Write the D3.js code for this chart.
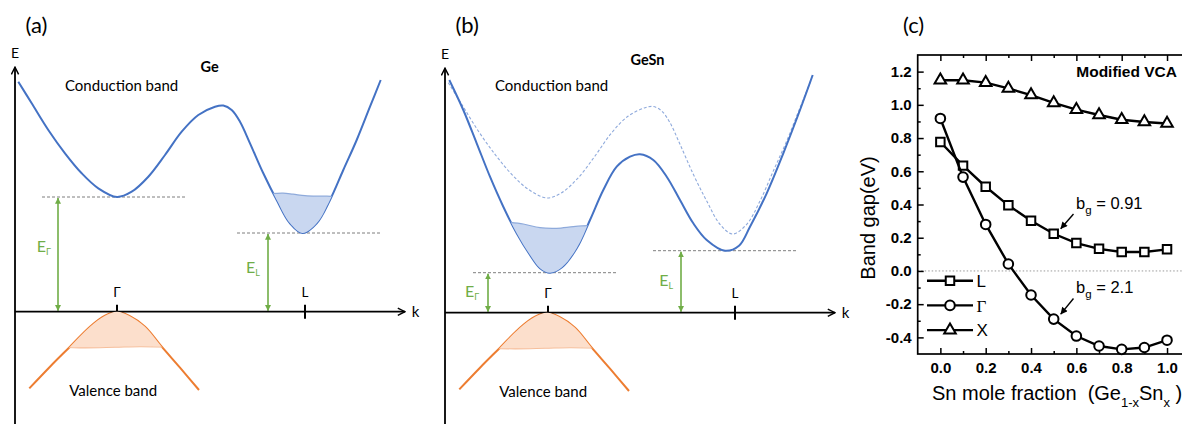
<!DOCTYPE html>
<html>
<head>
<meta charset="utf-8">
<script src="https://cdn.jsdelivr.net/npm/d3@7"></script>
<style>
  html, body { margin: 0; padding: 0; background: #fff; }
  svg { display: block; }
</style>
</head>
<body>
<svg id="fig" width="1182" height="424"></svg>
<script>
// ---------- Schematic band structures: [k, E] in arbitrary units (Γ near k≈1, L near k≈2.9) ----------
const geConduction = [
  [0.033, 2.30], [0.167, 2.084], [0.333, 1.817], [0.5, 1.584], [0.667, 1.384],
  [0.833, 1.234], [1.02, 1.147], [1.167, 1.20], [1.333, 1.35], [1.5, 1.567],
  [1.667, 1.80], [1.833, 1.967], [2.0, 2.05], [2.083, 2.062], [2.167, 2.017],
  [2.25, 1.90], [2.35, 1.684], [2.483, 1.384], [2.617, 1.117], [2.75, 0.884],
  [2.877, 0.787], [3.017, 0.884], [3.15, 1.117], [3.283, 1.417], [3.417, 1.717],
  [3.55, 2.05], [3.657, 2.317]
];
const gesnConduction = [
  [0.043, 2.327], [0.183, 2.027], [0.317, 1.694], [0.45, 1.36], [0.583, 1.06],
  [0.717, 0.794], [0.85, 0.577], [0.95, 0.445], [1.05, 0.40], [1.17, 0.455],
  [1.317, 0.644], [1.45, 0.927], [1.583, 1.227], [1.717, 1.46], [1.85, 1.56],
  [1.95, 1.584], [2.083, 1.527], [2.217, 1.36], [2.35, 1.127], [2.483, 0.894],
  [2.617, 0.727], [2.8, 0.62], [2.94, 0.67], [3.05, 0.86], [3.217, 1.194],
  [3.383, 1.594], [3.55, 2.027], [3.677, 2.377]
];
const valenceBand = [
  [0.143, -0.767], [0.35, -0.55], [0.55, -0.35], [0.75, -0.15], [0.9, -0.04],
  [1.02, 0.0], [1.14, -0.04], [1.3, -0.15], [1.467, -0.35], [1.65, -0.56], [1.84, -0.783]
];
// occupied states: upper edge of electron pockets, lower edge of hole pocket
const geLPocketTop = [[2.56, 1.18], [2.68, 1.185], [2.78, 1.175], [2.9, 1.16], [3.02, 1.155], [3.12, 1.155], [3.22, 1.15]];
const gesnGammaPocketTop = [[0.55, 0.91], [0.633, 0.904], [0.783, 0.887], [0.95, 0.85], [1.117, 0.844], [1.283, 0.86], [1.433, 0.87], [1.52, 0.87]];
const valencePocketBottom = [[0.42, -0.355], [0.7, -0.362], [1.0, -0.356], [1.25, -0.35], [1.6, -0.356]];

// band edges per material: [Ge, GeSn]
const materials = ["Ge", "GeSn"];
const gammaGap = [1.147, 0.40];
const lGap = [0.787, 0.62];
const gammaPointK = [1.02, 1.03];
const lPointK = [2.9, 2.9];

// ---------- Band gap vs Sn fraction ----------
const snFraction = [0.0, 0.1, 0.2, 0.3, 0.4, 0.5, 0.6, 0.7, 0.8, 0.9, 1.0];
const gapL     = [0.776, 0.634, 0.507, 0.395, 0.302, 0.224, 0.168, 0.133, 0.114, 0.114, 0.130];
const gapGamma = [0.918, 0.565, 0.28, 0.042, -0.145, -0.29, -0.392, -0.452, -0.472, -0.461, -0.417];
const gapX     = [1.148, 1.148, 1.134, 1.099, 1.059, 1.012, 0.971, 0.939, 0.910, 0.897, 0.888];
const yTicksMajor = [-0.4, -0.2, 0.0, 0.2, 0.4, 0.6, 0.8, 1.0, 1.2];
const yTicksMinor = [-0.3, -0.1, 0.1, 0.3, 0.5, 0.7, 0.9, 1.1];
const xTicksMajor = [0.0, 0.2, 0.4, 0.6, 0.8, 1.0];
const xTicksMinor = [0.1, 0.3, 0.5, 0.7, 0.9];
const bowing = ["0.91", "2.1"];

// ---------- drawing ----------
const svg = d3.select("#fig");
const defs = svg.append("defs");
const SANS = "Lato, 'Open Sans', sans-serif";
const ARIAL = "'Liberation Sans', Arial, sans-serif";

function filledArrow(id, color, w, h) {
  defs.append("marker").attr("id", id)
    .attr("viewBox", "0 0 10 10").attr("refX", 9.5).attr("refY", 5)
    .attr("markerWidth", w).attr("markerHeight", h)
    .attr("markerUnits", "userSpaceOnUse").attr("orient", "auto-start-reverse")
    .append("path").attr("d", "M0,0 L10,5 L0,10 Z").attr("fill", color);
}
filledArrow("greenHead", "#70ad47", 6, 6);
filledArrow("blackHead", "#000", 8, 7);
defs.append("marker").attr("id", "axisHead")
  .attr("viewBox", "0 0 10 10").attr("refX", 9).attr("refY", 5)
  .attr("markerWidth", 9).attr("markerHeight", 9)
  .attr("markerUnits", "userSpaceOnUse").attr("orient", "auto")
  .append("path").attr("d", "M1,1 L9,5 L1,9").attr("fill", "none")
  .attr("stroke", "#000").attr("stroke-width", 1.6);

// local band-diagram scales (one unit = 100 px), shared by panels (a) and (b)
const kx = d3.scaleLinear().domain([0, 1]).range([0, 100]);
const ey = d3.scaleLinear().domain([0, 1]).range([0, -100]);
const curve = d3.curveCatmullRom.alpha(0.5);
const bandLine = d3.line().x(d => kx(d[0])).y(d => ey(d[1])).curve(curve);

const layouts = [
  { tag: "(a)", ox: 15, oy: 311.7, band: geConduction, ghost: null, pocket: geLPocketTop,
    titleY: 71.7, levelG: [0.27, 1.72], levelL: [2.22, 3.67], arrowG: 0.43, arrowL: 2.53,
    labG: [0.217, 0.60], labL: [2.31, 0.384], tickLabY: -15 },
  { tag: "(b)", ox: 445, oy: 312.7, band: gesnConduction, ghost: geConduction, pocket: gesnGammaPocketTop,
    titleY: 65, levelG: [0.28, 1.73], levelL: [2.08, 3.53], arrowG: 0.43, arrowL: 2.36,
    labG: [0.20, 0.16], labL: [2.143, 0.267], tickLabY: -14.7 }
];

layouts.forEach((p, i) => {
  const g = svg.append("g").attr("transform", `translate(${p.ox},${p.oy})`);
  const cid = "cb" + i, vid = "vb" + i;

  // clip regions: above the conduction band, below the valence band
  defs.append("clipPath").attr("id", cid).append("path")
    .attr("transform", `translate(${p.ox},${p.oy})`)
    .attr("d", d3.area().x(d => kx(d[0])).y0(d => ey(d[1])).y1(ey(3)).curve(curve)(p.band));
  defs.append("clipPath").attr("id", vid).append("path")
    .attr("transform", `translate(${p.ox},${p.oy})`)
    .attr("d", d3.area().x(d => kx(d[0])).y0(d => ey(d[1])).y1(ey(-2)).curve(curve)(valenceBand));

  const gc = svg.append("g").attr("clip-path", `url(#${cid})`)
    .append("g").attr("transform", `translate(${p.ox},${p.oy})`);
  gc.append("path")
    .attr("d", d3.area().x(d => kx(d[0])).y0(ey(-1.5)).y1(d => ey(d[1])).curve(curve)(p.pocket))
    .attr("fill", "#c9d7f0");
  gc.append("path").attr("d", bandLine(p.pocket))
    .attr("fill", "none").attr("stroke", "#8eaadb").attr("stroke-width", 1.2);

  const gv = svg.append("g").attr("clip-path", `url(#${vid})`)
    .append("g").attr("transform", `translate(${p.ox},${p.oy})`);
  gv.append("path")
    .attr("d", d3.area().x(d => kx(d[0])).y0(ey(1)).y1(d => ey(d[1])).curve(curve)(valencePocketBottom))
    .attr("fill", "#fcdfcc");
  gv.append("path").attr("d", bandLine(valencePocketBottom))
    .attr("fill", "none").attr("stroke", "#f6bf9c").attr("stroke-width", 1.1);

  // band-edge reference levels
  const level = (ks, e) => g.append("line")
    .attr("x1", kx(ks[0])).attr("x2", kx(ks[1])).attr("y1", ey(e)).attr("y2", ey(e))
    .attr("stroke", "#7f7f7f").attr("stroke-width", 1).attr("stroke-dasharray", "3,2");
  level(p.levelG, gammaGap[i]);
  level(p.levelL, lGap[i]);

  // gap arrows
  const gapArrow = (k, e) => g.append("line")
    .attr("x1", kx(k)).attr("x2", kx(k)).attr("y1", ey(0) - 1).attr("y2", ey(e) + 1)
    .attr("stroke", "#70ad47").attr("stroke-width", 1.6)
    .attr("marker-start", "url(#greenHead)").attr("marker-end", "url(#greenHead)");
  gapArrow(p.arrowG, gammaGap[i]);
  gapArrow(p.arrowL, lGap[i]);

  const gapLabel = (pos, sub) => {
    const t = g.append("text").attr("x", kx(pos[0])).attr("y", ey(pos[1]))
      .attr("font-family", SANS).attr("font-size", 16).attr("fill", "#70ad47").text("E");
    t.append("tspan").attr("font-size", 9).attr("dy", 3).text(sub);
  };
  gapLabel(p.labG, "Γ");
  gapLabel(p.labL, "L");

  // ghost (unalloyed) conduction band
  if (p.ghost) {
    g.append("path").attr("d", bandLine(p.ghost)).attr("fill", "none")
      .attr("stroke", "#8faadc").attr("stroke-width", 1.1).attr("stroke-dasharray", "3,2");
  }
  g.append("path").attr("d", bandLine(p.band)).attr("fill", "none")
    .attr("stroke", "#4472c4").attr("stroke-width", 2);
  g.append("path").attr("d", bandLine(valenceBand)).attr("fill", "none")
    .attr("stroke", "#ed7d31").attr("stroke-width", 2);

  // axes
  g.append("line").attr("x1", 0).attr("x2", 0).attr("y1", ey(-1.2)).attr("y2", ey(2.445))
    .attr("stroke", "#000").attr("stroke-width", 1.8).attr("marker-end", "url(#axisHead)");
  g.append("line").attr("x1", 0).attr("x2", kx(3.9)).attr("y1", 0).attr("y2", 0)
    .attr("stroke", "#000").attr("stroke-width", 1.8).attr("marker-end", "url(#axisHead)");
  g.append("text").attr("x", 0).attr("y", ey(2.534)).attr("text-anchor", "middle")
    .attr("font-family", SANS).attr("font-size", 14).text("E");
  g.append("text").attr("x", kx(3.967)).attr("y", 5.5)
    .attr("font-family", SANS).attr("font-size", 15).text("k");

  [[gammaPointK[i], "Γ"], [lPointK[i], "L"]].forEach(([k, name]) => {
    g.append("line").attr("x1", kx(k)).attr("x2", kx(k)).attr("y1", -7).attr("y2", 7)
      .attr("stroke", "#000").attr("stroke-width", 2);
    g.append("text").attr("x", kx(k)).attr("y", p.tickLabY).attr("text-anchor", "middle")
      .attr("font-family", SANS).attr("font-size", 13.5).text(name);
  });

  g.append("text").attr("x", 50).attr("y", 90.7 - p.oy)
    .attr("font-family", SANS).attr("font-size", 15).text("Conduction band");
  g.append("text").attr("x", 54.3).attr("y", 84.2)
    .attr("font-family", SANS).attr("font-size", 15).text("Valence band");
  g.append("text").attr("x", 185.5).attr("y", p.titleY - p.oy)
    .attr("font-family", SANS).attr("font-weight", "bold").attr("font-size", 14.5).text(materials[i]);
  g.append("text").attr("x", 10.5).attr("y", 33 - p.oy)
    .attr("font-family", SANS).attr("font-size", 22).text(p.tag);
});

// ---------- panel (c) ----------
const xC = d3.scaleLinear().domain([-0.1, 1.1]).range([917.7, 1189.7]);
const yC = d3.scaleLinear().domain([-0.5, 1.3]).range([354, 55]);
const gC = svg.append("g");

gC.append("text").attr("x", 903).attr("y", 33)
  .attr("font-family", SANS).attr("font-size", 22).text("(c)");

gC.append("line").attr("x1", xC(-0.1)).attr("x2", xC(1.1)).attr("y1", yC(0)).attr("y2", yC(0))
  .attr("stroke", "#9a9a9a").attr("stroke-width", 1).attr("stroke-dasharray", "1.5,2");

const fmt = d => d.toFixed(1);
function styleAxis(sel) {
  sel.select(".domain").remove();
  sel.selectAll(".tick line").attr("stroke", "#000").attr("stroke-width", 1.5);
  sel.selectAll("text").attr("font-family", ARIAL).attr("font-weight", "bold")
    .attr("font-size", 15).attr("fill", "#000");
}
gC.append("g").attr("transform", `translate(${xC(-0.1)},0)`)
  .call(d3.axisLeft(yC).tickValues(yTicksMajor).tickFormat(fmt).tickSizeInner(-6).tickSizeOuter(0).tickPadding(6))
  .call(styleAxis);
gC.append("g").attr("transform", `translate(${xC(-0.1)},0)`)
  .call(d3.axisLeft(yC).tickValues(yTicksMinor).tickFormat("").tickSizeInner(-3).tickSizeOuter(0))
  .call(styleAxis);
gC.append("g").attr("transform", `translate(0,${yC(-0.5)})`)
  .call(d3.axisBottom(xC).tickValues(xTicksMajor).tickFormat(fmt).tickSizeInner(-6).tickSizeOuter(0).tickPadding(8.5))
  .call(styleAxis);
gC.append("g").attr("transform", `translate(0,${yC(-0.5)})`)
  .call(d3.axisBottom(xC).tickValues(xTicksMinor).tickFormat("").tickSizeInner(-3).tickSizeOuter(0))
  .call(styleAxis);
gC.append("g").attr("transform", `translate(0,${yC(1.3)})`)
  .call(d3.axisTop(xC).tickValues(xTicksMajor).tickFormat("").tickSizeInner(-6).tickSizeOuter(0))
  .call(styleAxis);
gC.append("g").attr("transform", `translate(0,${yC(1.3)})`)
  .call(d3.axisTop(xC).tickValues(xTicksMinor).tickFormat("").tickSizeInner(-3).tickSizeOuter(0))
  .call(styleAxis);

gC.append("rect").attr("x", xC(-0.1)).attr("y", yC(1.3))
  .attr("width", xC(1.1) - xC(-0.1)).attr("height", yC(-0.5) - yC(1.3))
  .attr("fill", "none").attr("stroke", "#000").attr("stroke-width", 1.7);

const seriesList = [
  { name: "L", values: gapL, symbol: d3.symbolSquare, size: 72, font: ARIAL },
  { name: "Γ", values: gapGamma, symbol: d3.symbolCircle, size: 72, font: "'Liberation Serif', 'Times New Roman', serif" },
  { name: "X", values: gapX, symbol: d3.symbolTriangle, size: 58, font: ARIAL }
];
const dataLine = d3.line().x(d => xC(d[0])).y(d => yC(d[1]));
seriesList.forEach(s => {
  const pts = snFraction.map((x, j) => [x, s.values[j]]);
  gC.append("path").attr("d", dataLine(pts)).attr("fill", "none")
    .attr("stroke", "#000").attr("stroke-width", 2.4);
  gC.selectAll(null).data(pts).join("path")
    .attr("transform", d => `translate(${xC(d[0])},${yC(d[1])})`)
    .attr("d", d3.symbol().type(s.symbol).size(s.size))
    .attr("fill", "#fff").attr("stroke", "#000").attr("stroke-width", 2);
});

// legend
seriesList.forEach((s, j) => {
  const cy = 280.7 + j * 24.7;
  gC.append("line").attr("x1", 927).attr("x2", 973).attr("y1", cy).attr("y2", cy)
    .attr("stroke", "#000").attr("stroke-width", 2.4);
  gC.append("path").attr("transform", `translate(950,${cy})`)
    .attr("d", d3.symbol().type(s.symbol).size(s.size))
    .attr("fill", "#fff").attr("stroke", "#000").attr("stroke-width", 2);
  gC.append("text").attr("x", 976.5).attr("y", cy + 6.3)
    .attr("font-family", s.font).attr("font-size", 17).text(s.name);
});

gC.append("text").attr("x", 1177).attr("y", 77).attr("text-anchor", "end")
  .attr("font-family", ARIAL).attr("font-weight", "bold").attr("font-size", 15.5).text("Modified VCA");

// bowing annotations, each pointing at the x = 0.5 marker of its series
[[gapL, bowing[0], 208.5], [gapGamma, bowing[1], 293]].forEach(([vals, b, base]) => {
  const t = gC.append("text").attr("x", 1076).attr("y", base)
    .attr("font-family", ARIAL).attr("font-size", 16.5);
  t.append("tspan").text("b");
  t.append("tspan").attr("font-size", 11.5).attr("dy", 5).text("g");
  t.append("tspan").attr("dy", -5).text(" = " + b);
  const tx = xC(snFraction[5]) + 5, ty = yC(vals[5]) - 5;
  gC.append("line").attr("x1", 1073.5).attr("y1", base + 5.5).attr("x2", tx + 2).attr("y2", ty)
    .attr("stroke", "#000").attr("stroke-width", 1.4).attr("marker-end", "url(#blackHead)");
});

// axis titles
gC.append("text").attr("transform", "translate(875,218) rotate(-90)").attr("text-anchor", "middle")
  .attr("font-family", ARIAL).attr("font-size", 20).text("Band gap(eV)");
const xt = gC.append("text").attr("x", 932).attr("y", 400)
  .attr("font-family", ARIAL).attr("font-size", 20).attr("xml:space", "preserve");
xt.append("tspan").text("Sn mole fraction  (Ge");
xt.append("tspan").attr("font-size", 13).attr("dy", 7).text("1-x");
xt.append("tspan").attr("dy", -7).text("Sn");
xt.append("tspan").attr("font-size", 13).attr("dy", 7).text("x");
xt.append("tspan").attr("dy", -7).text(" )");
</script>
</body>
</html>
